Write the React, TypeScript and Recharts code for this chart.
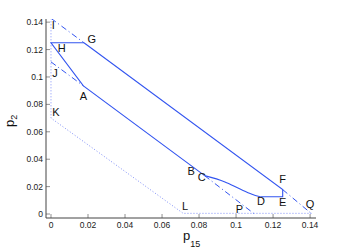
import {
  ComposedChart,
  Line,
  Scatter,
  XAxis,
  YAxis,
} from 'recharts'

// region boundary (solid)
const upperEdge = [
  { x: 0.0178, y: 0.125 },
  { x: 0, y: 0.125 },
  { x: 0.0175, y: 0.0935 },
  { x: 0.079, y: 0.032 },
  { x: 0.083, y: 0.028 },
]
const lowerCurve = [
  { x: 0.083, y: 0.028 },
  { x: 0.094, y: 0.0234 },
  { x: 0.1022, y: 0.0182 },
  { x: 0.1086, y: 0.0145 },
  { x: 0.113, y: 0.0126 },
]
const rightEdge = [
  { x: 0.113, y: 0.0126 },
  { x: 0.1252, y: 0.0126 },
  { x: 0.1252, y: 0.0178 },
  { x: 0.0178, y: 0.125 },
]

// dash-dot constraint lines
const lineIG = [
  { x: 0, y: 0.1428 },
  { x: 0.0178, y: 0.125 },
]
const lineFQ = [
  { x: 0.1252, y: 0.0178 },
  { x: 0.141, y: 0 },
]
const lineJA = [
  { x: 0, y: 0.111 },
  { x: 0.0175, y: 0.0935 },
]
const lineCP = [
  { x: 0.083, y: 0.028 },
  { x: 0.1095, y: 0.0005 },
]

// dotted outer boundary
const outerDotted = [
  { x: 0, y: 0.1428 },
  { x: 0, y: 0.07 },
  { x: 0.0714, y: 0.0005 },
  { x: 0.141, y: 0.0005 },
]

const pointLabels = [
  { name: 'I', x: 0.0012, y: 0.138 },
  { name: 'H', x: 0.0058, y: 0.1214 },
  { name: 'G', x: 0.022, y: 0.1275 },
  { name: 'J', x: 0.0022, y: 0.1027 },
  { name: 'A', x: 0.0175, y: 0.0861 },
  { name: 'K', x: 0.0027, y: 0.0747 },
  { name: 'B', x: 0.0757, y: 0.0316 },
  { name: 'C', x: 0.0815, y: 0.0272 },
  { name: 'D', x: 0.1135, y: 0.0095 },
  { name: 'E', x: 0.1252, y: 0.009 },
  { name: 'F', x: 0.1252, y: 0.0255 },
  { name: 'L', x: 0.0724, y: 0.0061 },
  { name: 'P', x: 0.1018, y: 0.0034 },
  { name: 'Q', x: 0.14, y: 0.0073 },
]

const ticks = [0, 0.02, 0.04, 0.06, 0.08, 0.1, 0.12, 0.14]
const xDomain = [-0.0027, 0.1432]
const yDomain = [-0.0029, 0.1423]

const BLUE = '#3355f0'
const DOTTED = '#7f8ff8'
const AXIS = '#444'
const FONT = '"Liberation Sans", Arial, sans-serif'

const BottomTick = (props: any) => {
  const { x, y, payload } = props
  return (
    <g>
      <line x1={x} x2={x} y1={y} y2={y - 4} stroke={AXIS} strokeWidth={0.6} />
      <text x={x} y={y + 6.5} textAnchor="middle" dominantBaseline="central"
        fontSize={8.5} fill="#222" fontFamily={FONT}>
        {String(payload.value)}
      </text>
    </g>
  )
}

const LeftTick = (props: any) => {
  const { x, y, payload } = props
  return (
    <g>
      <line x1={x} x2={x + 4} y1={y} y2={y} stroke={AXIS} strokeWidth={0.6} />
      <text x={x - 3} y={y} textAnchor="end" dominantBaseline="central"
        fontSize={8.5} fill="#222" fontFamily={FONT}>
        {String(payload.value)}
      </text>
    </g>
  )
}

const TopTick = (props: any) => {
  const { x, y } = props
  return <line x1={x} x2={x} y1={y} y2={y + 4} stroke={AXIS} strokeWidth={0.6} />
}

const RightTick = (props: any) => {
  const { x, y } = props
  return <line x1={x} x2={x - 4} y1={y} y2={y} stroke={AXIS} strokeWidth={0.6} />
}

const PointLabel = (props: any) => {
  const { cx, cy, payload } = props
  return (
    <text x={cx} y={cy} textAnchor="middle" dominantBaseline="central"
      fontSize={11} fill="#111" fontFamily={FONT}>
      {payload.name}
    </text>
  )
}

export default function App() {
  const axisProps = { xAxisId: 'b', yAxisId: 'l' }
  return (
    <div style={{ position: 'absolute', left: 0, top: 0, width: 349, height: 250, background: '#fff' }}>
      <ComposedChart width={349} height={250} margin={{ top: 19, right: 33, bottom: 0, left: 0 }}>
        <XAxis xAxisId="b" type="number" dataKey="x" domain={xDomain} ticks={ticks}
          allowDataOverflow tickSize={0} tickMargin={0} height={32}
          axisLine={{ stroke: AXIS }} tick={<BottomTick />} interval={0} />
        <XAxis xAxisId="t" orientation="top" type="number" dataKey="x" domain={xDomain}
          ticks={ticks} allowDataOverflow tickSize={0} tickMargin={0} height={0}
          axisLine={{ stroke: '#777' }} tick={<TopTick />} interval={0} />
        <YAxis yAxisId="l" type="number" dataKey="y" domain={yDomain} ticks={ticks}
          allowDataOverflow tickSize={0} tickMargin={0} width={46}
          axisLine={{ stroke: AXIS }} tick={<LeftTick />} interval={0} />
        <YAxis yAxisId="r" orientation="right" type="number" dataKey="y" domain={yDomain}
          ticks={ticks} allowDataOverflow tickSize={0} tickMargin={0} width={0}
          axisLine={{ stroke: '#777' }} tick={<RightTick />} interval={0} />

        <Line {...axisProps} data={outerDotted} dataKey="y" stroke={DOTTED} strokeWidth={1}
          strokeDasharray="1 2" dot={false} isAnimationActive={false} />
        <Line {...axisProps} data={lineIG} dataKey="y" stroke={BLUE} strokeWidth={1}
          strokeDasharray="6 3 1 3" dot={false} isAnimationActive={false} />
        <Line {...axisProps} data={lineFQ} dataKey="y" stroke={BLUE} strokeWidth={1}
          strokeDasharray="6 3 1 3" dot={false} isAnimationActive={false} />
        <Line {...axisProps} data={lineJA} dataKey="y" stroke={BLUE} strokeWidth={1}
          strokeDasharray="6 3 1 3" dot={false} isAnimationActive={false} />
        <Line {...axisProps} data={lineCP} dataKey="y" stroke={BLUE} strokeWidth={1}
          strokeDasharray="6 3 1 3" dot={false} isAnimationActive={false} />

        <Line {...axisProps} data={upperEdge} dataKey="y" stroke={BLUE} strokeWidth={1.1}
          dot={false} isAnimationActive={false} />
        <Line {...axisProps} type="monotoneX" data={lowerCurve} dataKey="y" stroke={BLUE}
          strokeWidth={1.1} dot={false} isAnimationActive={false} />
        <Line {...axisProps} data={rightEdge} dataKey="y" stroke={BLUE} strokeWidth={1.1}
          dot={false} isAnimationActive={false} />

        <Scatter {...axisProps} data={pointLabels} dataKey="y" shape={<PointLabel />}
          isAnimationActive={false} />
      </ComposedChart>
      <svg width={349} height={250} style={{ position: 'absolute', left: 0, top: 0, pointerEvents: 'none' }}>
        <text transform="translate(14,127) rotate(-90)" fontSize={13} fill="#111" fontFamily={FONT}>
          p<tspan dy={3} fontSize={9}>2</tspan>
        </text>
        <text x={183} y={239.5} fontSize={13} fill="#111" fontFamily={FONT}>
          p<tspan dy={7.5} fontSize={9}>15</tspan>
        </text>
      </svg>
    </div>
  )
}
